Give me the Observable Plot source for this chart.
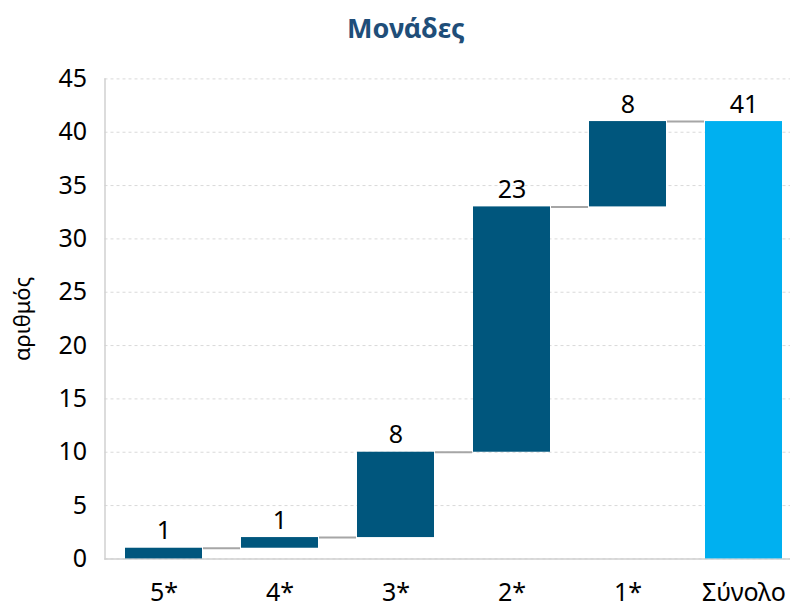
<!DOCTYPE html>
<html>
<head>
<meta charset="utf-8">
<script src="https://cdn.jsdelivr.net/npm/d3@7"></script>
<script src="https://cdn.jsdelivr.net/npm/@observablehq/plot@0.6"></script>
<style>
  body { margin: 0; background: #fff; }
  #title { width: 794px; box-sizing: border-box; padding-left: 18px; height: 56px; line-height: 56px; text-align: center;
           font-family: "Noto Sans", sans-serif; font-weight: bold; font-size: 27px; color: #1f4e79; }
</style>
</head>
<body>
<div id="title">Μονάδες</div>
<div id="chart"></div>
<script>
const categories = ["5*", "4*", "3*", "2*", "1*", "Σύνολο"];
const values = [1, 1, 8, 23, 8, 41];
const isTotal = [false, false, false, false, false, true];
const yTicks = [0, 5, 10, 15, 20, 25, 30, 35, 40, 45];
const yLabel = "αριθμός";

// build waterfall table
let cum = 0;
const rows = categories.map((c, i) => {
  let start, end;
  if (isTotal[i]) { start = 0; end = values[i]; }
  else { start = cum; end = cum + values[i]; cum = end; }
  return {cat: c, start, end, value: values[i], total: isTotal[i]};
});
const connectors = rows.slice(0, -1).map((r, i) => ({from: r.cat, to: rows[i + 1].cat, level: r.end}));

const xRange = [104.5, 803.8], pIn = 0.332, pOut = 0.161;
const step = (xRange[1] - xRange[0]) / (categories.length - pIn + 2 * pOut);
const bw = step * (1 - pIn);

const plot = Plot.plot({
  width: 794,
  height: 552,
  marginTop: 22.4,
  marginBottom: 49.6,
  marginLeft: 104.5,
  marginRight: 4,
  style: {fontFamily: "Noto Sans, sans-serif", color: "#000", background: "#fff"},
  x: {domain: categories, range: xRange, paddingInner: pIn, paddingOuter: pOut, label: null},
  y: {domain: [0, 45], label: null},
  marks: [
    Plot.gridY(yTicks, {stroke: "#d9d9d9", strokeOpacity: 1, strokeDasharray: "3,3"}),
    Plot.ruleY([0], {stroke: "#d0d0d0", strokeWidth: 1.5}),
    Plot.frame({anchor: "left", stroke: "#d0d0d0", strokeWidth: 1.5}),
    Plot.ruleY(connectors, {x1: "from", x2: "to", y: "level", insetLeft: bw, insetRight: bw, stroke: "#a6a6a6", strokeWidth: 2}),
    Plot.barY(rows, {x: "cat", y1: "start", y2: "end", fill: d => d.total ? "#00b0f0" : "#00567d"}),
    Plot.text(rows, {x: "cat", y: "end", text: d => String(d.value), dy: -9, lineAnchor: "bottom", fontSize: 25, fill: "#000"}),
    Plot.axisY(yTicks, {tickSize: 0, tickPadding: 18, fontSize: 25, label: null}),
    Plot.axisX({tickSize: 0, tickPadding: 24, fontSize: 25, label: null}),
    Plot.text([yLabel], {frameAnchor: "left", textAnchor: "middle", rotate: -90, dx: -82, fontSize: 22, fill: "#000"})
  ]
});
document.getElementById("chart").appendChild(plot);
</script>
</body>
</html>
